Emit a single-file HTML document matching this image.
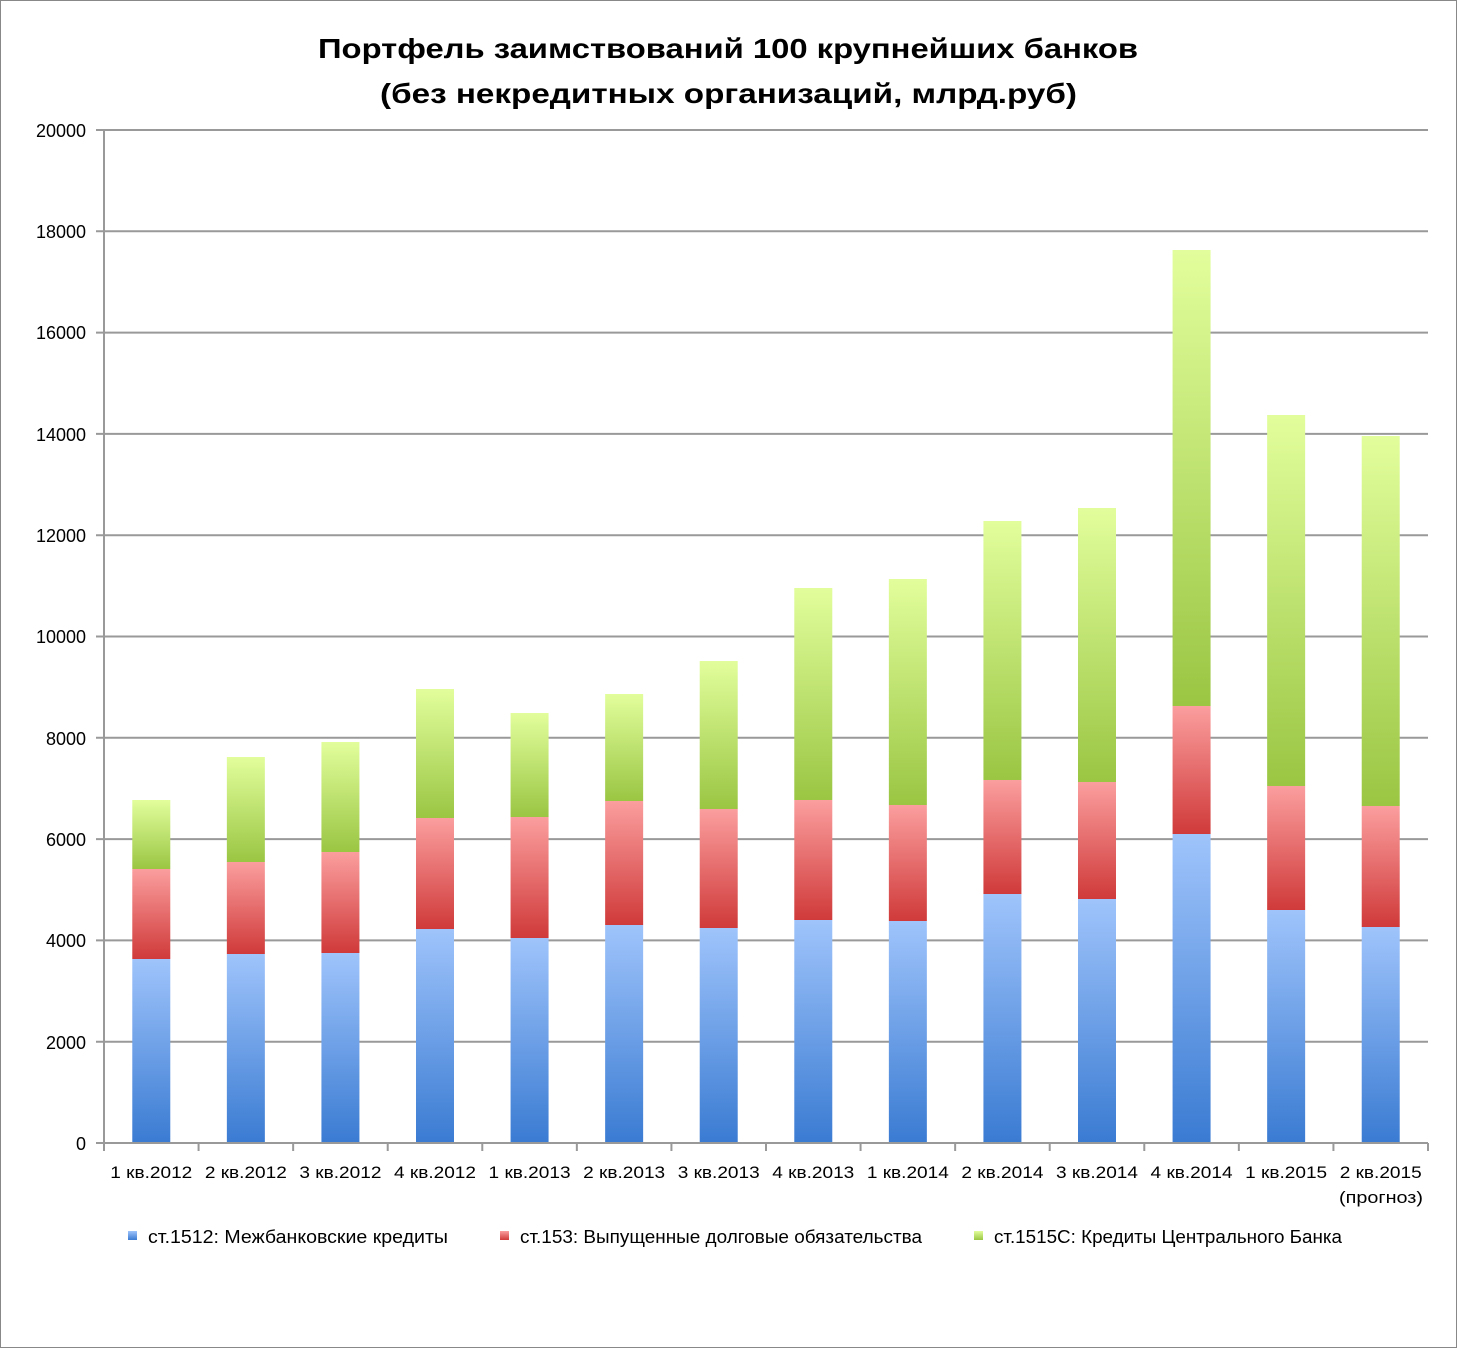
<!DOCTYPE html>
<html><head><meta charset="utf-8"><style>body{margin:0;background:#fff}svg{display:block}text{font-family:"Liberation Sans","DejaVu Sans",sans-serif;fill:#000}</style></head><body>
<svg width="1457" height="1348" viewBox="0 0 1457 1348">
<defs>
<linearGradient id="b" x1="0" y1="1" x2="0" y2="0"><stop offset="0" stop-color="#3a7bd2"/><stop offset="1" stop-color="#9fc4fb"/></linearGradient>
<linearGradient id="r" x1="0" y1="1" x2="0" y2="0"><stop offset="0" stop-color="#d03a3a"/><stop offset="1" stop-color="#fb9e9e"/></linearGradient>
<linearGradient id="g" x1="0" y1="1" x2="0" y2="0"><stop offset="0" stop-color="#9ac643"/><stop offset="1" stop-color="#e2fe9c"/></linearGradient>
</defs>
<rect x="0.5" y="0.5" width="1456" height="1347" fill="#fff" stroke="#888"/>
<text x="318" y="58" font-size="28" font-weight="bold" textLength="820" lengthAdjust="spacingAndGlyphs">Портфель заимствований 100 крупнейших банков</text>
<text x="380" y="103" font-size="28" font-weight="bold" textLength="697" lengthAdjust="spacingAndGlyphs">(без некредитных организаций, млрд.руб)</text>
<g stroke="#999" stroke-width="2">
<line x1="96" y1="130" x2="1428" y2="130"/><line x1="96" y1="231.3" x2="1428" y2="231.3"/><line x1="96" y1="332.6" x2="1428" y2="332.6"/><line x1="96" y1="433.9" x2="1428" y2="433.9"/><line x1="96" y1="535.2" x2="1428" y2="535.2"/><line x1="96" y1="636.5" x2="1428" y2="636.5"/><line x1="96" y1="737.8" x2="1428" y2="737.8"/><line x1="96" y1="839.1" x2="1428" y2="839.1"/><line x1="96" y1="940.4" x2="1428" y2="940.4"/><line x1="96" y1="1041.7" x2="1428" y2="1041.7"/>
</g>
<g font-size="18" text-anchor="end">
<text x="86" y="137">20000</text><text x="86" y="238">18000</text><text x="86" y="339">16000</text><text x="86" y="441">14000</text><text x="86" y="542">12000</text><text x="86" y="643">10000</text><text x="86" y="745">8000</text><text x="86" y="846">6000</text><text x="86" y="947">4000</text><text x="86" y="1049">2000</text><text x="86" y="1150">0</text>
</g>
<g id="bars"></g>
<g stroke="#999" stroke-width="2">
<line x1="104" y1="130" x2="104" y2="1151"/><line x1="96" y1="1143" x2="1428" y2="1143"/>
</g>
<g id="ticks" stroke="#999" stroke-width="2"></g>
<g id="labs" font-size="17" text-anchor="middle"></g>
<text x="1339" y="1203" font-size="17" textLength="84" lengthAdjust="spacingAndGlyphs">(прогноз)</text>
<g font-size="18">
<rect x="128" y="1231" width="9" height="9" fill="url(#b)"/><text x="148" y="1243" textLength="300" lengthAdjust="spacingAndGlyphs">ст.1512: Межбанковские кредиты</text>
<rect x="500" y="1231" width="9" height="9" fill="url(#r)"/><text x="520" y="1243" textLength="402" lengthAdjust="spacingAndGlyphs">ст.153: Выпущенные долговые обязательства</text>
<rect x="974" y="1231" width="9" height="9" fill="url(#g)"/><text x="994" y="1243" textLength="348" lengthAdjust="spacingAndGlyphs">ст.1515С: Кредиты Центрального Банка</text>
</g>
</svg>
<script>
var d=[[959,869,800],[954,862,757],[953,852,742],[929,818,689],[938,817,713],[925,801,694],[928,809,661],[920,800,588],[921,805,579],[894,780,521],[899,782,508],[834,706,250],[910,786,415],[927,806,436]];
var names=["1 кв.2012","2 кв.2012","3 кв.2012","4 кв.2012","1 кв.2013","2 кв.2013","3 кв.2013","4 кв.2013","1 кв.2014","2 кв.2014","3 кв.2014","4 кв.2014","1 кв.2015","2 кв.2015"];
var ns="http://www.w3.org/2000/svg",B=document.getElementById("bars"),T=document.getElementById("ticks"),L=document.getElementById("labs");
function el(t,a,p){var e=document.createElementNS(ns,t);for(var k in a)e.setAttribute(k,a[k]);p.appendChild(e);return e;}
var w=1324/14;
for(var i=0;i<14;i++){var c=104+w*(i+0.5),x=c-19,v=d[i];
el("rect",{x:x,y:v[0],width:38,height:1143-v[0],fill:"url(#b)"},B);
el("rect",{x:x,y:v[1],width:38,height:v[0]-v[1],fill:"url(#r)"},B);
el("rect",{x:x,y:v[2],width:38,height:v[1]-v[2],fill:"url(#g)"},B);
var tx=104+w*(i+1);el("line",{x1:tx,y1:1143,x2:tx,y2:1151},T);
var t=el("text",{x:c,y:1178,textLength:82,lengthAdjust:"spacingAndGlyphs"},L);t.textContent=names[i];}
</script>
</body></html>
